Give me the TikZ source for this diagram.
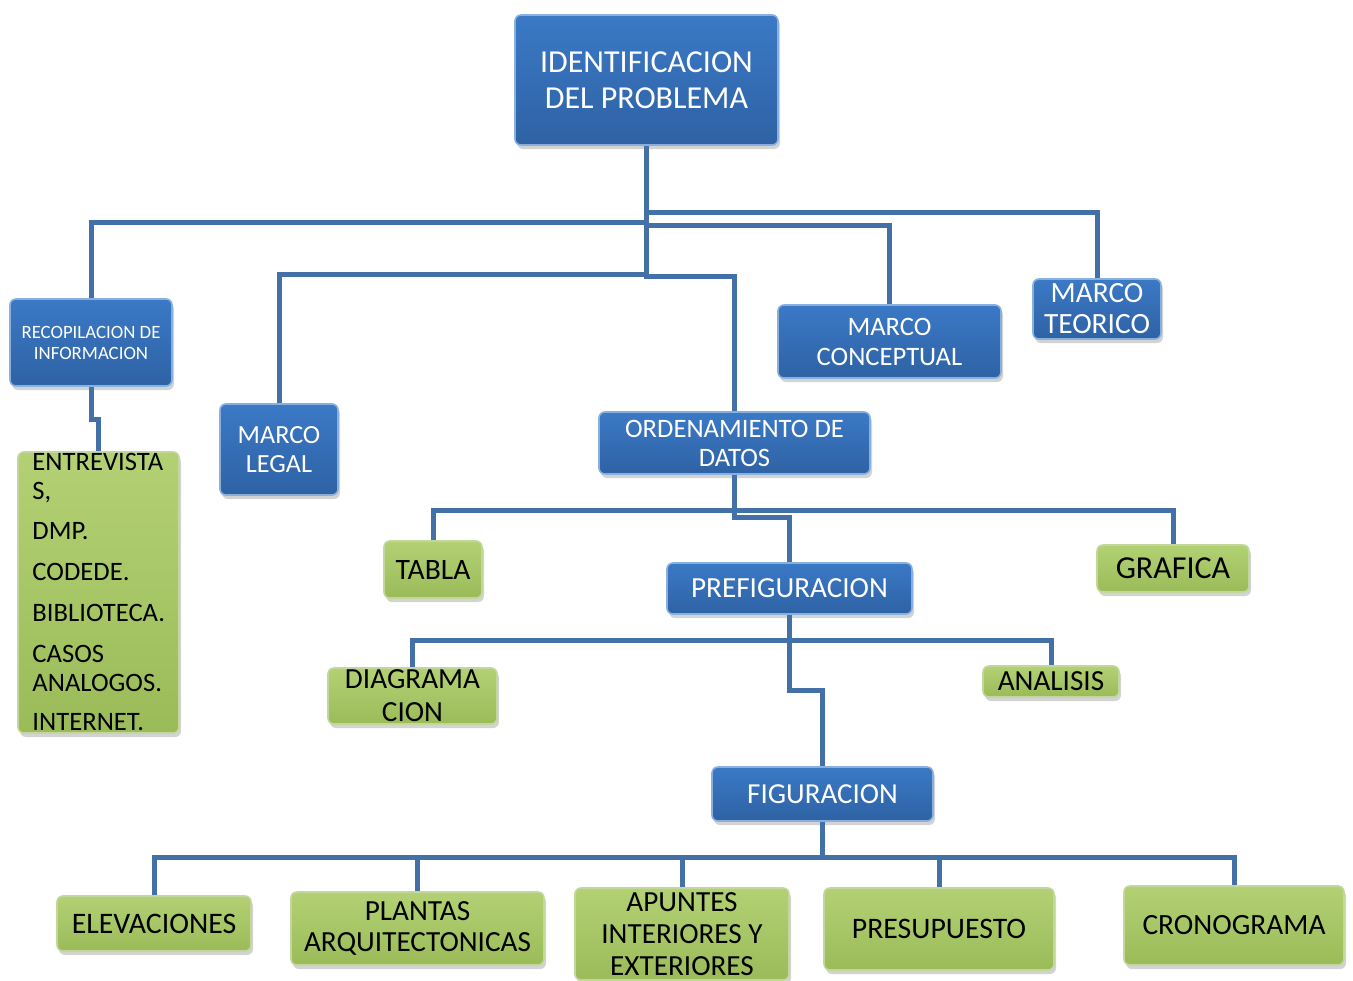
\documentclass[tikz,border=0pt]{standalone}
\usepackage{fontspec}
\setmainfont{Carlito}
\usetikzlibrary{shadows}
\definecolor{boxblue}{HTML}{3B79C6}
\definecolor{boxbluedark}{HTML}{2E62A4}
\definecolor{boxgreen}{HTML}{9BBB59}
\definecolor{boxgreenlight}{HTML}{B3D174}
\definecolor{linkblue}{HTML}{4371A7}
\tikzset{
  bluebox/.style={rounded corners=3pt, top color=boxblue, bottom color=boxbluedark,
    draw=boxblue!60!white, line width=0.8pt, text=white, align=center, inner sep=0pt,
    drop shadow={opacity=0.35, shadow xshift=1pt, shadow yshift=-2pt}},
  greenbox/.style={rounded corners=3pt, top color=boxgreenlight, bottom color=boxgreen,
    draw=boxgreen!60!white, line width=0.8pt, text=black, align=center, inner sep=0pt,
    drop shadow={opacity=0.35, shadow xshift=1pt, shadow yshift=-2pt}},
  link/.style={draw=linkblue, line width=2.5pt}
}
\newcommand{\fs}[2]{\fontsize{#1}{#2}\selectfont}
\begin{document}
\begin{tikzpicture}[x=0.5pt,y=-0.5pt]
\useasboundingbox (0,0) rectangle (1353,980);

\node[bluebox, minimum width=131.5pt, minimum height=65pt, font=\fs{16}{18}] (ident)
  at (646.5,80) {IDENTIFICACION\\DEL PROBLEMA};

\node[bluebox, minimum width=81pt, minimum height=43.5pt, font=\fs{9.4}{10.5}] (recop)
  at (91,342.5) {RECOPILACION DE\\INFORMACION};
\node[bluebox, minimum width=59pt, minimum height=45.5pt, font=\fs{13.1}{14.5}] (legal)
  at (279,449.5) {MARCO\\LEGAL};
\node[bluebox, minimum width=135.5pt, minimum height=31pt, font=\fs{13.3}{14.5}] (orden)
  at (734.5,443) {ORDENAMIENTO DE\\DATOS};
\node[bluebox, minimum width=111.5pt, minimum height=36.5pt, font=\fs{13.3}{15}] (conceptual)
  at (889.5,341.5) {MARCO\\CONCEPTUAL};
\node[bluebox, minimum width=64pt, minimum height=30pt, font=\fs{14.7}{15.5}] (teorico)
  at (1097,309) {MARCO\\TEORICO};

% lista de fuentes
\node[greenbox, minimum width=80.5pt, minimum height=140.5pt, align=left,
  text width=66pt, text height=9pt, text depth=131.5pt, font=\fs{13.3}{14.5}] (entrev)
  at (98.5,592.5)
  {ENTREVISTA\\S,\\[5.5pt]DMP.\\[6pt]CODEDE.\\[6pt]BIBLIOTECA.\\[6pt]CASOS\\ANALOGOS.\\[5pt]INTERNET.};

\node[greenbox, minimum width=49pt, minimum height=28.5pt, font=\fs{14.8}{16}] (tabla)
  at (433,569.5) {TABLA};
\node[bluebox, minimum width=122.5pt, minimum height=25.5pt, font=\fs{14.6}{16}] (prefig)
  at (789.5,588.5) {PREFIGURACION};
\node[greenbox, minimum width=76pt, minimum height=23.5pt, font=\fs{16}{17}] (grafica)
  at (1173,568.5) {GRAFICA};

\node[greenbox, minimum width=84.5pt, minimum height=28pt, font=\fs{14.6}{16.5}] (diag)
  at (412.5,696) {DIAGRAMA\\CION};
\node[greenbox, minimum width=68pt, minimum height=15.5pt, font=\fs{14.6}{15}] (analisis)
  at (1051,681.5) {ANALISIS};

\node[bluebox, minimum width=110.5pt, minimum height=27pt, font=\fs{14.5}{16}] (figur)
  at (822.5,794) {FIGURACION};

\node[greenbox, minimum width=97pt, minimum height=27.5pt, font=\fs{14.9}{16}] (elev)
  at (154,923.5) {ELEVACIONES};
\node[greenbox, minimum width=126.5pt, minimum height=36.5pt, font=\fs{14.6}{15.5}] (plantas)
  at (417.5,928.5) {PLANTAS\\ARQUITECTONICAS};
\node[greenbox, minimum width=107pt, minimum height=46pt, font=\fs{14.6}{16}] (apuntes)
  at (682,934) {APUNTES\\INTERIORES Y\\EXTERIORES};
\node[greenbox, minimum width=115pt, minimum height=41pt, font=\fs{14.9}{16}] (presup)
  at (939,929) {PRESUPUESTO};
\node[greenbox, minimum width=110pt, minimum height=39.5pt, font=\fs{14.7}{16}] (crono)
  at (1234,925.5) {CRONOGRAMA};

\draw[link] (ident.south) -- ++(0,77) -| (recop.north);
\draw[link] (ident.south) -- ++(0,67) -| (teorico.north);
\draw[link] (ident.south) -- ++(0,80) -| (conceptual.north);
\draw[link] (ident.south) -- ++(0,129) -| (legal.north);
\draw[link] (ident.south) -- ++(0,131) -| (orden.north);
\draw[link] (recop.south) -- ++(0,33) -| (entrev.north);

\draw[link] (orden.south) -- ++(0,36) -| (tabla.north);
\draw[link] (orden.south) -- ++(0,36) -| (grafica.north);
\draw[link] (orden.south) -- ++(0,43) -| (prefig.north);

\draw[link] (prefig.south) -- ++(0,26) -| (diag.north);
\draw[link] (prefig.south) -- ++(0,26) -| (analisis.north);
\draw[link] (prefig.south) -- ++(0,76) -| (figur.north);

\draw[link] (figur.south) -- ++(0,36) -| (elev.north);
\draw[link] (figur.south) -- ++(0,36) -| (plantas.north);
\draw[link] (figur.south) -- ++(0,36) -| (apuntes.north);
\draw[link] (figur.south) -- ++(0,36) -| (presup.north);
\draw[link] (figur.south) -- ++(0,36) -| (crono.north);
\end{tikzpicture}
\end{document}
